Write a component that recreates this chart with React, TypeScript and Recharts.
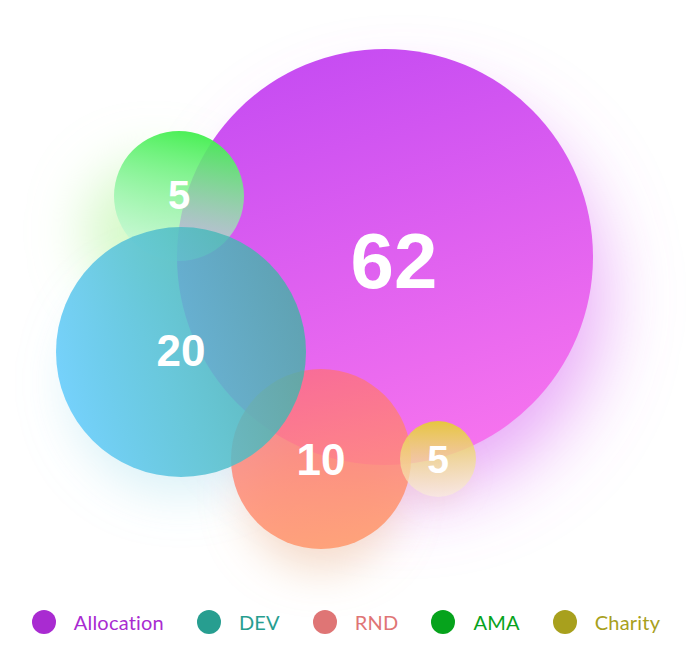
import React from 'react';
import { ScatterChart, Scatter, XAxis, YAxis, ZAxis, Legend } from 'recharts';

// ---- data ----
const categories = ['Allocation', 'DEV', 'RND', 'AMA', 'Charity'];
const values = [62, 20, 10, 5, 5];
const bubbleX = [385, 181, 321, 179, 438];
const bubbleY = [257, 352, 459, 196, 459];
const bubbleRadius = [208, 125, 90, 65, 38];
const layerOrder = [0, 3, 2, 1, 4];

// ---- styles ----
const legendColors = ['#a92bd1', '#279e90', '#df7575', '#06a31c', '#a8a01d'];

type Stop = { offset: string; color: string; opacity: number };
type BubbleStyle = {
  id: string;
  x1: number; y1: number; x2: number; y2: number;
  stops: Stop[];
  glow: string; glowOpacity: number; gdx: number; gdy: number; gr: number; blur: number;
  fontSize: number; ldx: number; ldy: number;
};

const bubbleStyles: BubbleStyle[] = [
  {
    id: 'alloc', x1: 0.35, y1: 0, x2: 0.65, y2: 1,
    stops: [
      { offset: '0%', color: '#c64cf2', opacity: 1 },
      { offset: '100%', color: '#f774ee', opacity: 1 },
    ],
    glow: '#d76af2', glowOpacity: 0.6, gdx: 18, gdy: 40, gr: 0.95, blur: 38,
    fontSize: 78, ldx: 9, ldy: 4,
  },
  {
    id: 'dev', x1: 0, y1: 0.65, x2: 1, y2: 0.35,
    stops: [
      { offset: '0%', color: '#68cdfd', opacity: 0.9 },
      { offset: '100%', color: '#3fb2a2', opacity: 0.8 },
    ],
    glow: '#8fd6e8', glowOpacity: 0.35, gdx: 0, gdy: 30, gr: 0.9, blur: 25,
    fontSize: 44, ldx: 0, ldy: -2,
  },
  {
    id: 'rnd', x1: 0.4, y1: 0, x2: 0.6, y2: 1,
    stops: [
      { offset: '0%', color: '#ff6f76', opacity: 0.72 },
      { offset: '100%', color: '#ff9d72', opacity: 0.92 },
    ],
    glow: '#e9b48c', glowOpacity: 0.45, gdx: 0, gdy: 35, gr: 0.85, blur: 22,
    fontSize: 44, ldx: 0, ldy: 0,
  },
  {
    id: 'ama', x1: 0.5, y1: 0, x2: 0.3, y2: 1,
    stops: [
      { offset: '0%', color: '#44ef50', opacity: 0.95 },
      { offset: '100%', color: '#c9f8e8', opacity: 0.55 },
    ],
    glow: '#b8f5a0', glowOpacity: 0.6, gdx: -25, gdy: 35, gr: 1.05, blur: 28,
    fontSize: 40, ldx: 0, ldy: -1,
  },
  {
    id: 'charity', x1: 0.5, y1: 0, x2: 0.5, y2: 1,
    stops: [
      { offset: '0%', color: '#e6c83a', opacity: 0.97 },
      { offset: '100%', color: '#fbf0dc', opacity: 0.6 },
    ],
    glow: '#e8c8a0', glowOpacity: 0.25, gdx: 0, gdy: 15, gr: 0.8, blur: 12,
    fontSize: 39, ldx: 0, ldy: 0,
  },
];

const rows = categories.map((name, i) => ({
  idx: i,
  name,
  value: values[i],
  x: bubbleX[i],
  y: bubbleY[i],
  z: bubbleRadius[i] * bubbleRadius[i],
}));
const orderedRows = layerOrder.map((i) => rows[i]);

const W = 692;
const H = 648;
const ZMAX = 208 * 208;

const radiusOf = (p: any) => {
  if (typeof p.width === 'number' && p.width > 0) return p.width / 2;
  return Math.sqrt(Math.max(p.size || 0, 0) / Math.PI);
};

const GlowShape = (props: any) => {
  const { cx, cy, payload } = props;
  const s = bubbleStyles[payload.idx];
  const r = radiusOf(props);
  return (
    <circle
      cx={cx + s.gdx}
      cy={cy + s.gdy}
      r={r * s.gr}
      fill={s.glow}
      fillOpacity={s.glowOpacity}
      filter={`url(#blur-${s.id})`}
    />
  );
};

const BubbleShape = (props: any) => {
  const { cx, cy, payload } = props;
  const s = bubbleStyles[payload.idx];
  const r = radiusOf(props);
  return (
    <g>
      <circle cx={cx} cy={cy} r={r} fill={`url(#grad-${s.id})`} />
      <text
        x={cx + s.ldx}
        y={cy + s.ldy}
        textAnchor="middle"
        dominantBaseline="central"
        fill="#ffffff"
        fontFamily="'Liberation Sans', Arial, sans-serif"
        fontWeight={700}
        fontSize={s.fontSize}
      >
        {payload.value}
      </text>
    </g>
  );
};

const LegendContent = () => (
  <div
    style={{
      display: 'flex',
      justifyContent: 'center',
      alignItems: 'center',
      width: W,
      fontFamily: "Lato, 'Noto Sans', sans-serif",
      fontSize: 20,
      lineHeight: '24px',
    }}
  >
    {categories.map((c, i) => (
      <div
        key={c}
        style={{ display: 'flex', alignItems: 'center', marginLeft: i === 0 ? 0 : 33 }}
      >
        <div
          style={{
            width: 24,
            height: 24,
            borderRadius: 12,
            background: legendColors[i],
            marginRight: 18,
          }}
        />
        <span style={{ color: legendColors[i], letterSpacing: 0.2 }}>{c}</span>
      </div>
    ))}
  </div>
);

export default function App() {
  return (
    <div style={{ position: 'absolute', left: 0, top: 0, width: W, height: H, background: '#fff' }}>
      <ScatterChart width={W} height={H} margin={{ top: 0, right: 0, bottom: 0, left: 0 }}>
        <defs>
          {bubbleStyles.map((s) => (
            <linearGradient key={s.id} id={`grad-${s.id}`} x1={s.x1} y1={s.y1} x2={s.x2} y2={s.y2}>
              {s.stops.map((st) => (
                <stop key={st.offset} offset={st.offset} stopColor={st.color} stopOpacity={st.opacity} />
              ))}
            </linearGradient>
          ))}
          {bubbleStyles.map((s) => (
            <filter key={s.id} id={`blur-${s.id}`} x="-100%" y="-100%" width="300%" height="300%">
              <feGaussianBlur stdDeviation={s.blur} />
            </filter>
          ))}
        </defs>
        <XAxis type="number" dataKey="x" domain={[0, W]} hide allowDataOverflow />
        <YAxis type="number" dataKey="y" domain={[0, H]} reversed hide allowDataOverflow />
        <ZAxis type="number" dataKey="z" domain={[0, ZMAX]} range={[0, Math.PI * ZMAX]} />
        <Scatter
          name="glow"
          data={orderedRows}
          shape={GlowShape}
          isAnimationActive={false}
          legendType="none"
        />
        <Scatter
          name="bubbles"
          data={orderedRows}
          shape={BubbleShape}
          isAnimationActive={false}
        />
        <Legend
          layout="horizontal"
          verticalAlign="middle"
          align="center"
          content={LegendContent}
          wrapperStyle={{ top: 610, left: 0, width: W, height: 24 }}
        />
      </ScatterChart>
    </div>
  );
}
